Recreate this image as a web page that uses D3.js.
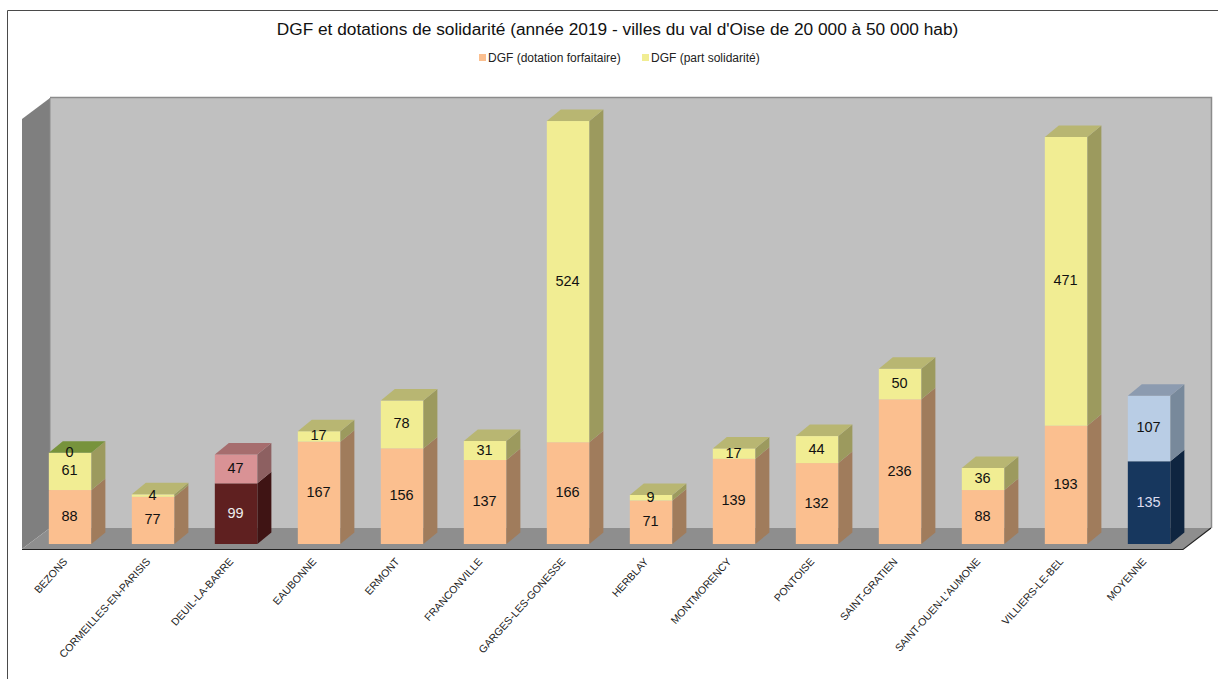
<!DOCTYPE html>
<html><head><meta charset="utf-8">
<script src="https://cdn.jsdelivr.net/npm/d3@7/dist/d3.min.js"></script>
<style>html,body{margin:0;padding:0;background:#fff}svg{display:block}text{font-family:"Liberation Sans",Arial,sans-serif}</style>
</head><body><svg id="c" width="1218" height="679"></svg>
<script>
const categories=["BEZONS","CORMEILLES-EN-PARISIS","DEUIL-LA-BARRE","EAUBONNE","ERMONT","FRANCONVILLE","GARGES-LES-GONESSE","HERBLAY","MONTMORENCY","PONTOISE","SAINT-GRATIEN","SAINT-OUEN-L'AUMONE","VILLIERS-LE-BEL","MOYENNE"];
const forfaitaire=[88,77,99,167,156,137,166,71,139,132,236,88,193,135];
const solidarite=[61,4,47,17,78,31,524,9,17,44,50,36,471,107];
const seriesNames=["DGF (dotation forfaitaire)","DGF (part solidarité)"];
const title="DGF et dotations de solidarité (année 2019 - villes du val d'Oise de 20 000 à 50 000 hab)";
const zeroLabelCategory="BEZONS";
const zeroLabelValue=0;
const paletteDefault={low:["#fbbf8f","#a07c5c"],high:["#f1ed93","#9c9a5e","#b8b672"],lowText:"#111",highText:"#111"};
const paletteOverrides={
 "DEUIL-LA-BARRE":{low:["#5f2020","#3f1414"],high:["#d99295","#8d6061","#a66d6e"],lowText:"#eee",highText:"#111"},
 "MOYENNE":{low:["#17375e","#0f2540"],high:["#b9cde5","#78899b","#8c9bb0"],lowText:"#dde",highText:"#111"},
 "BEZONS":{low:["#fbbf8f","#a07c5c"],high:["#f1ed93","#9c9a5e","#77933c"],lowText:"#111",highText:"#111"}
};

const svg=d3.select("#c");
const x=d3.scaleBand().domain(categories).range([28.5,1190.5]).paddingInner(0.48).paddingOuter(0.24);
const y=d3.scaleLinear().domain([0,710]).range([544,108.8]);
const dx=14,dy=-11.5;

// frame
svg.append("path").attr("d","M7.5,679V10.5H1218").attr("fill","none").attr("stroke","#4a4a4a").attr("stroke-width",1);

// walls
const pts=a=>a.map(p=>p.join(",")).join(" ");
svg.append("polygon").attr("points",pts([[50,98],[1211,98],[1211,528],[50,528]])).attr("fill","#c0c0c0");
svg.append("path").attr("d","M50,97.5H1211.5V528").attr("fill","none").attr("stroke","#8b8b8b").attr("stroke-width",1.5);
svg.append("polygon").attr("points",pts([[22,119],[50,98],[50,528],[22,549]])).attr("fill","#7f7f7f");
svg.append("polygon").attr("points",pts([[50,528],[1211,528],[1183,549],[22,549]])).attr("fill","#8e8e8e");
svg.append("line").attr("x1",50).attr("x2",50).attr("y1",98).attr("y2",528).attr("stroke","#8b8b8b");
svg.append("path").attr("d","M22,549.5H1183L1211,528").attr("fill","none").attr("stroke","#222").attr("stroke-width",1.2);

// bars
categories.forEach((c,i)=>{
  const p=paletteOverrides[c]||paletteDefault;
  const x0=x(c)+0.4,w=x.bandwidth()-0.6,x1=x0+w;
  const g=svg.append("g");
  const y0=y(0),y1=y(forfaitaire[i]),y2=y(forfaitaire[i]+solidarite[i]);
  g.append("rect").attr("x",x0).attr("y",y1).attr("width",w).attr("height",y0-y1).attr("fill",p.low[0]);
  g.append("polygon").attr("points",pts([[x1,y0],[x1+dx,y0+dy],[x1+dx,y1+dy],[x1,y1]])).attr("fill",p.low[1]);
  g.append("rect").attr("x",x0).attr("y",y2).attr("width",w).attr("height",y1-y2).attr("fill",p.high[0]);
  g.append("polygon").attr("points",pts([[x1,y1],[x1+dx,y1+dy],[x1+dx,y2+dy],[x1,y2]])).attr("fill",p.high[1]);
  g.append("polygon").attr("points",pts([[x0,y2],[x0+dx,y2+dy],[x1+dx,y2+dy],[x1,y2]])).attr("fill",p.high[2]);
});

// value labels
const lab=(cx,cy,t,col)=>svg.append("text").attr("x",cx).attr("y",cy).attr("text-anchor","middle").attr("dominant-baseline","central").attr("font-size",14.5).attr("fill",col).text(t);
categories.forEach((c,i)=>{
  const p=paletteOverrides[c]||paletteDefault;
  const cx=x(c)+x.bandwidth()/2;
  lab(cx-0.5,(y(0)+y(forfaitaire[i]))/2-1,forfaitaire[i],p.lowText);
  lab(cx-0.5,(y(forfaitaire[i])+y(forfaitaire[i]+solidarite[i]))/2-1,solidarite[i],p.highText);
  if(c===zeroLabelCategory) lab(cx-0.5,y(forfaitaire[i]+solidarite[i])-1,zeroLabelValue,"#111");
});

// category axis
const axis=svg.append("g").attr("transform","translate(0,549)").call(d3.axisBottom(x).tickSize(0).tickPadding(0));
axis.select(".domain").remove();
axis.selectAll("text").attr("font-size",10.5).attr("font-family",'"Liberation Sans",Arial,sans-serif').attr("fill","#222")
  .attr("text-anchor","end").attr("dy",0).attr("y",0).attr("x",0)
  .attr("transform","translate(-2,13) rotate(-48)");

// title
svg.append("text").attr("x",617.5).attr("y",35).attr("text-anchor","middle").attr("font-size",17.3).attr("fill","#111").text(title);

// legend
const lx=[479,642];
seriesNames.forEach((s,i)=>{
  svg.append("rect").attr("x",lx[i]).attr("y",54).attr("width",7).attr("height",7).attr("fill",i?"#f1ed93":"#fbbf8f");
  svg.append("text").attr("x",lx[i]+9).attr("y",62).attr("font-size",12).attr("fill","#222").text(s);
});
</script></body></html>
